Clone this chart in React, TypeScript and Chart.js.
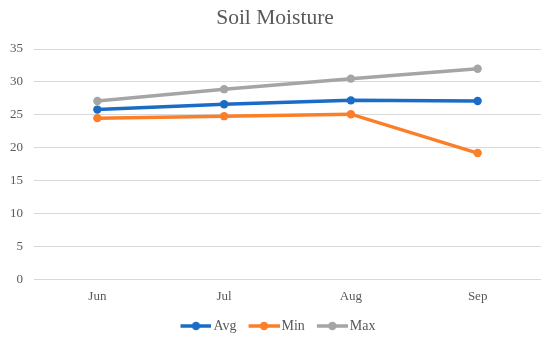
import React, { useEffect, useRef } from "react";
import { Chart, registerables } from "chart.js";

Chart.register(...registerables);

const categories = ["Jun", "Jul", "Aug", "Sep"];
const avgValues = [25.8, 26.6, 27.2, 27.1];
const minValues = [24.5, 24.8, 25.1, 19.2];
const maxValues = [27.1, 28.9, 30.5, 32.0];
const seriesNames = ["Avg", "Min", "Max"];
const seriesColors = ["#1a6cc6", "#fb7e29", "#a5a5a5"];
const chartTitle = "Soil Moisture";

const FONT = "'Liberation Serif', 'Times New Roman', serif";
const TEXT = "#595959";

function makeMarker(color: string): HTMLCanvasElement {
  const c = document.createElement("canvas");
  c.width = 42;
  c.height = 14;
  const ctx = c.getContext("2d")!;
  ctx.strokeStyle = color;
  ctx.lineWidth = 3.5;
  ctx.beginPath();
  ctx.moveTo(11, 7);
  ctx.lineTo(42, 7);
  ctx.stroke();
  ctx.fillStyle = color;
  ctx.beginPath();
  ctx.arc(26.5, 7, 4.2, 0, Math.PI * 2);
  ctx.fill();
  return c;
}

export default function App() {
  const ref = useRef<HTMLCanvasElement | null>(null);

  useEffect(() => {
    if (!ref.current) return;
    const markers = seriesColors.map(makeMarker);
    const values = [avgValues, minValues, maxValues];
    const chart = new Chart(ref.current, {
      type: "line",
      data: {
        labels: categories,
        datasets: seriesNames.map((name, i) => ({
          label: name,
          data: values[i],
          borderColor: seriesColors[i],
          backgroundColor: seriesColors[i],
          borderWidth: 3.5,
          pointRadius: 4.2,
          pointBorderWidth: 0,
          pointBackgroundColor: seriesColors[i],
          tension: 0,
          fill: false,
        })),
      },
      options: {
        responsive: false,
        animation: false,
        layout: { padding: { left: 9, right: 9, top: 0, bottom: 0 } },
        plugins: {
          title: {
            display: true,
            text: chartTitle,
            color: TEXT,
            font: { family: FONT, size: 21.5, weight: "normal" },
            padding: { top: 5.5, bottom: 17.7 },
          },
          legend: {
            position: "bottom",
            maxHeight: 28,
            labels: {
              usePointStyle: true,
              pointStyleWidth: 32,
              padding: 6,
              color: TEXT,
              font: { family: FONT, size: 14 },
              generateLabels: (c: any) =>
                c.data.datasets.map((ds: any, i: number) => ({
                  text: ds.label,
                  pointStyle: markers[i],
                  fillStyle: "transparent",
                  strokeStyle: "transparent",
                  lineWidth: 0,
                  hidden: false,
                  datasetIndex: i,
                  fontColor: TEXT,
                })),
            },
          },
          tooltip: { enabled: false },
        },
        scales: {
          x: {
            type: "category",
            offset: true,
            grid: { display: false, drawTicks: false },
            border: { display: false },
            ticks: {
              color: TEXT,
              padding: 9,
              font: { family: FONT, size: 13 },
            },
            afterFit: (scale: any) => {
              scale.height = 33.5;
            },
          },
          y: {
            min: 0,
            max: 35,
            ticks: {
              stepSize: 5,
              color: TEXT,
              padding: 11,
              font: { family: FONT, size: 13 },
            },
            grid: { color: "#d9d9d9", lineWidth: 1, drawTicks: false },
            border: { display: false },
            afterFit: (scale: any) => {
              scale.width = 25;
            },
          },
        },
      },
    } as any);
    return () => chart.destroy();
  }, []);

  return (
    <div style={{ position: "absolute", left: 0, top: 0, width: 550, height: 341, background: "#fff" }}>
      <canvas ref={ref} width={550} height={341} />
    </div>
  );
}
